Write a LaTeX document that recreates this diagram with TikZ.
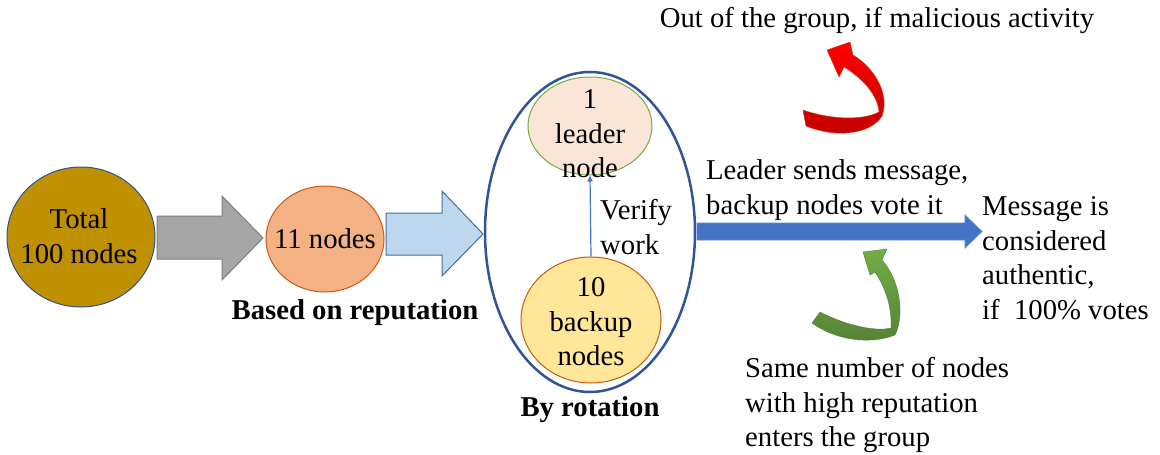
\documentclass[tikz,border=0pt]{standalone}
\usepackage{fontspec}
\setmainfont{Liberation Serif}
\usetikzlibrary{shapes.geometric,arrows.meta}
\definecolor{goldfill}{HTML}{BF9000}
\definecolor{navyline}{HTML}{2F528F}
\definecolor{salmon}{HTML}{F4B183}
\definecolor{rust}{HTML}{C55A11}
\definecolor{peach}{HTML}{FBE5D6}
\definecolor{leafgreen}{HTML}{70AD47}
\definecolor{darkgreen}{HTML}{548235}
\definecolor{butter}{HTML}{FFE699}
\definecolor{ringblue}{HTML}{2F5597}
\definecolor{midblue}{HTML}{4472C4}
\definecolor{paleblue}{HTML}{BDD7EE}
\definecolor{steelblue}{HTML}{41719C}
\definecolor{arrowgray}{HTML}{A5A5A5}
\definecolor{edgegray}{HTML}{7F7F7F}
\definecolor{darkred}{HTML}{C00000}
\begin{document}
\begin{tikzpicture}[x=1pt,y=-1pt,
  every node/.style={font=\fontsize{28.7}{34.5}\selectfont, inner sep=0pt},
  bubble/.style={ellipse, draw, line width=1pt},
  label text/.style={align=left, anchor=west},
  title text/.style={font=\fontsize{28.7}{34.5}\selectfont\bfseries},
  blockarrow/.style={line width=1pt, line join=miter}
]
\useasboundingbox (0,0) rectangle (1160,455);

% stage bubbles
\node[bubble, fill=goldfill, draw=navyline, minimum width=148pt, minimum height=140pt] (total) at (81,237) {};
\node[align=center] (totaltext) at (79,236) {Total\\100 nodes};
\node[bubble, fill=salmon, draw=rust, minimum width=118pt, minimum height=106pt] (eleven) at (325,239) {};
\node (eleventext) at (325,239) {11 nodes};

% rotating group
\node[ellipse, draw=ringblue, line width=2.5pt, minimum width=210pt, minimum height=320pt] (group) at (590,232) {};
\node[bubble, fill=peach, draw=leafgreen, minimum width=124pt, minimum height=98pt] (leader) at (590,126) {};
\node[align=center] (leadertext) at (590,134) {1\\leader\\node};
\node[bubble, fill=butter, draw=rust, minimum width=140pt, minimum height=126pt] (backup) at (591,320) {};
\node[align=center] (backuptext) at (591,322) {10\\backup\\nodes};
\draw[midblue, line width=1.2pt, -{Triangle[length=6pt,width=5pt]}] (backup.north) -- (leader.south);
\node[label text] (verify) at (600,227) {Verify\\work};

% block arrows between stages
\coordinate (g0) at (157,237.5);
\fill[arrowgray, draw=edgegray, blockarrow] (g0) ++(0,-21.5) -- ++(65,0) -- ++(0,-20) -- ++(41,42) -- ++(-41,42) -- ++(0,-21) -- ++(-65,0) -- cycle;
\coordinate (b0) at (386,234);
\fill[paleblue, draw=steelblue, blockarrow] (b0) ++(0,-21) -- ++(56,0) -- ++(0,-22) -- ++(41,43) -- ++(-41,42) -- ++(0,-21) -- ++(-56,0) -- cycle;
\coordinate (m0) at (697,231.5);
\fill[midblue, draw=midblue!85!white, line width=0.8pt] (m0) ++(0,-8.5) -- ++(268,0) -- ++(0,-8) -- ++(17,16.5) -- ++(-17,16.5) -- ++(0,-8) -- ++(-268,0) -- cycle;

% captions
\node[title text] (reputation) at (355,313) {Based on reputation};
\node[title text] (rotation) at (590,410) {By rotation};
\node[label text] (sends) at (706,190) {Leader sends message,\\backup nodes vote it};
\node[label text] (authentic) at (982,258) {Message is\\considered\\authentic,\\if\ \ 100\% votes};
\node (malicious) at (877,20) {Out of the group, if malicious activity};
\node[label text] (newnodes) at (745,405) {Same number of nodes\\with high reputation\\enters the group};

% red curved arrow: member leaves the group
\shade[top color=red, bottom color=darkred, draw=rust!70!red, line width=0.4pt]
  (803,110) .. controls (825,118) and (860,122) .. (879,112)
  .. controls (878,95) and (862,78) .. (844,67)
  -- (839,77) -- (827,50) -- (850,42) -- (853,55)
  .. controls (875,68) and (890,95) .. (882,116)
  .. controls (870,135) and (835,138) .. (806,126)
  -- cycle;

% green curved arrow: new member enters the group
\shade[top color=leafgreen, bottom color=darkgreen, draw=darkgreen, line width=0.4pt]
  (820,312) .. controls (845,325) and (875,332) .. (891,328)
  .. controls (892,310) and (887,290) .. (875,272)
  -- (870,275) -- (863,252) -- (887,249) -- (882,260)
  .. controls (900,280) and (905,315) .. (895,335)
  .. controls (870,345) and (835,340) .. (812,323)
  -- cycle;
\end{tikzpicture}
\end{document}
